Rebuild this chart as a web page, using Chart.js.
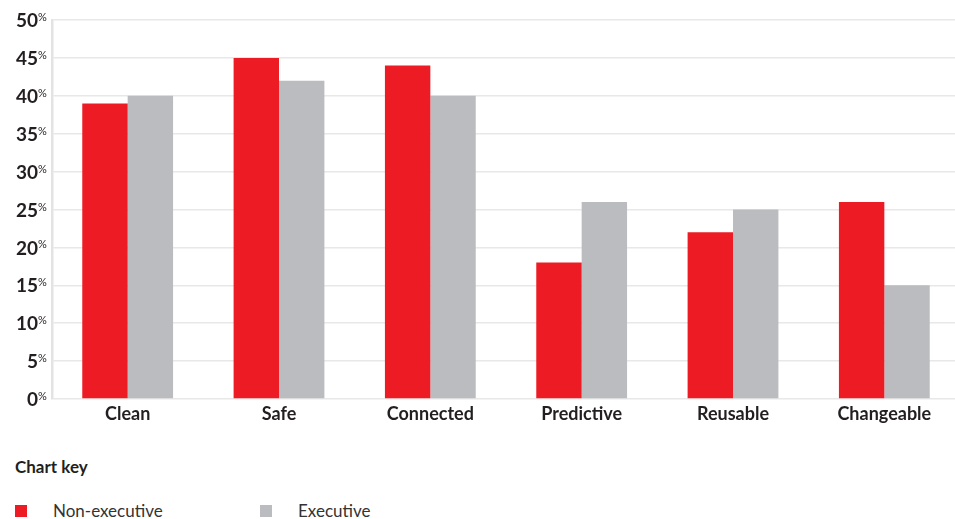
<!DOCTYPE html>
<html>
<head>
<meta charset="utf-8">
<script src="https://cdn.jsdelivr.net/npm/chart.js@4/dist/chart.umd.min.js"></script>
<style>
  html, body { margin: 0; padding: 0; background: #fff; overflow: hidden; }
  #wrap { position: relative; width: 960px; height: 519px; font-family: Lato, sans-serif; color: #231f20; }
  #box { position: absolute; left: 0; top: 0; width: 960px; height: 430px; }
  .key-title { position: absolute; left: 15px; top: 456px; font-weight: 700; font-size: 17px; }
  .key-item { position: absolute; top: 500px; font-size: 17px; line-height: 22px; color: #333; }
  .key-item i { position: absolute; left: 0; top: 5px; width: 12px; height: 12px; }
  .key-item span { position: absolute; left: 38px; white-space: nowrap; }
</style>
</head>
<body>
<div id="wrap">
  <div id="box"><canvas id="chart"></canvas></div>
  <div class="key-title">Chart key</div>
  <div class="key-item" style="left:15px"><i style="background:#ed1c24"></i><span>Non-executive</span></div>
  <div class="key-item" style="left:260px"><i style="background:#bbbcc0"></i><span>Executive</span></div>
</div>
<script>
const categories = ['Clean', 'Safe', 'Connected', 'Predictive', 'Reusable', 'Changeable']
const nonExecutive = [39, 45, 44, 18, 22, 26]
const executive = [40, 42, 40, 26, 25, 15]
const yTicks = [0, 5, 10, 15, 20, 25, 30, 35, 40, 45, 50]

// y labels with a small raised percent sign
const percentTicks = {
  id: 'percentTicks',
  afterDraw(chart) {
    const { ctx } = chart
    const y = chart.scales.y
    ctx.save()
    ctx.fillStyle = '#231f20'
    yTicks.forEach(v => {
      const py = y.getPixelForValue(v)
      ctx.font = '700 19px Lato, sans-serif'
      ctx.textAlign = 'right'
      ctx.textBaseline = 'middle'
      ctx.fillText(String(v), 38, py + 1)
      ctx.font = '400 11px Lato, sans-serif'
      ctx.textAlign = 'left'
      ctx.textBaseline = 'top'
      ctx.fillText('%', 38, py - 8)
    })
    ctx.restore()
  },
}

new Chart(document.getElementById('chart'), {
  type: 'bar',
  data: {
    labels: categories,
    datasets: [
      { label: 'Non-executive', data: nonExecutive, backgroundColor: '#ed1c24' },
      { label: 'Executive', data: executive, backgroundColor: '#bbbcc0' },
    ],
  },
  options: {
    responsive: true,
    maintainAspectRatio: false,
    animation: false,
    categoryPercentage: 0.6,
    barPercentage: 1.0,
    layout: { padding: { top: 20, left: 0, right: 0, bottom: 0 } },
    plugins: {
      legend: { display: false },
      tooltip: { enabled: false },
    },
    scales: {
      x: {
        grid: { display: false, drawTicks: false },
        border: { display: false },
        ticks: {
          color: '#231f20',
          padding: 4,
          font: { family: 'Lato, sans-serif', size: 18, weight: '700' },
        },
        afterFit: scale => { scale.height = 31 },
      },
      y: {
        min: 0,
        max: 50,
        ticks: { stepSize: 5, display: false },
        grid: { color: '#e8e8e8', lineWidth: 1.5, drawTicks: false },
        border: { color: '#e3e3e3', width: 2.5 },
        afterFit: scale => { scale.width = 52 },
      },
    },
  },
  plugins: [percentTicks],
})
</script>
</body>
</html>
